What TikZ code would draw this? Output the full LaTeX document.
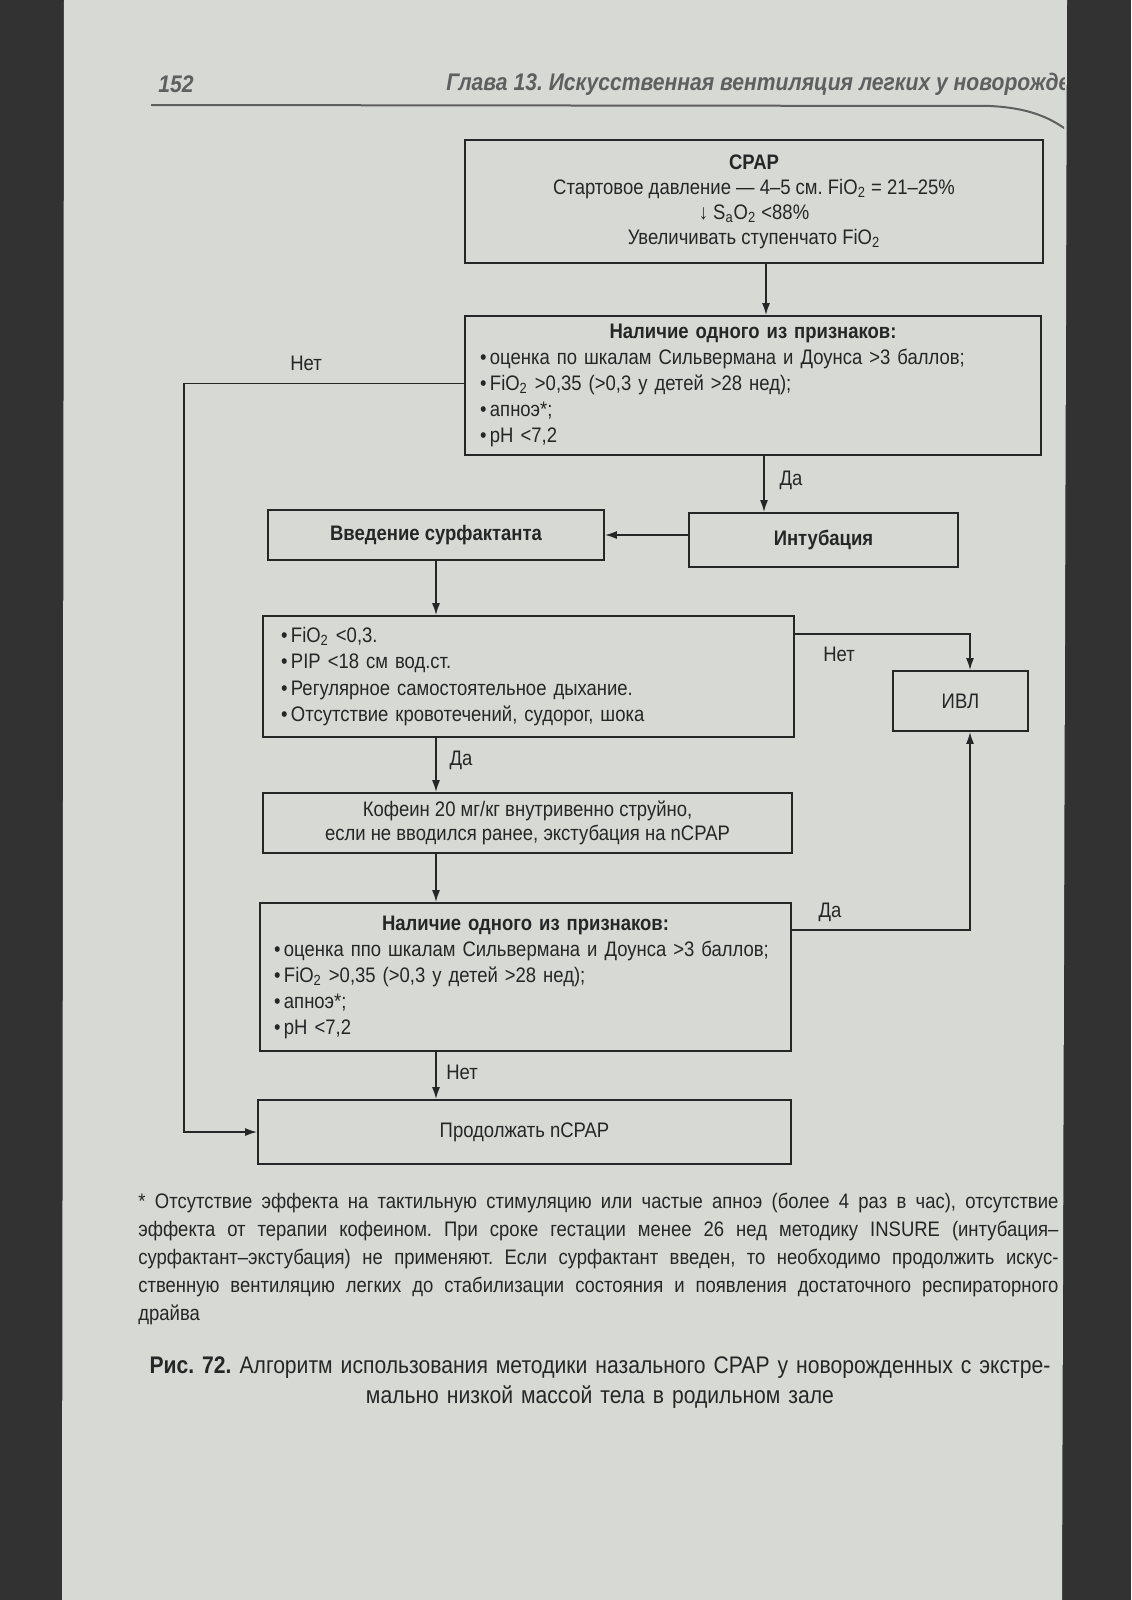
\documentclass[tikz,border=0pt]{standalone}
\usepackage{fontspec}
\setmainfont{Liberation Sans}[FakeStretch=0.88]
\usetikzlibrary{arrows.meta,calc}
\definecolor{pagebg}{RGB}{214,217,212}
\definecolor{ink}{RGB}{38,38,38}
\definecolor{hdrink}{RGB}{95,95,95}
\definecolor{edge}{RGB}{50,50,50}
\frenchspacing
\begin{document}
\begin{tikzpicture}[x=0.5pt,y=-0.5pt,
  box/.style={draw=ink, line width=0.9pt, rectangle, inner sep=0pt, text=ink, font=\fontsize{10.5}{13}\selectfont},
  arr/.style={draw=ink, line width=0.8pt, -{Latex[length=6pt,width=4pt]}},
  lbl/.style={text=ink, font=\fontsize{10.5}{13}\selectfont, inner sep=0pt},
  hdr/.style={text=hdrink, font=\fontsize{12}{14}\selectfont\bfseries\itshape, inner sep=0pt}]
\useasboundingbox (0,0) rectangle (1131,1600);
% photo background
\fill[edge] (0,0) rectangle (1131,1600);
\fill[pagebg] (64,0) -- (1067,0) -- (1062,1600) -- (62,1600) -- cycle;

% header (clipped at the page edge)
\begin{scope}
\clip (64,0) rectangle (1064,200);
\node[hdr, anchor=west] (pg) at (158,84) {152};
\node[hdr, anchor=west] (chap) at (446,84) {Глава 13. Искусственная вентиляция легких у новорожденных};
\draw[draw=hdrink, line width=1pt] (151,105) -- (990,106) .. controls (1030,108) and (1050,118) .. (1067,130);
\end{scope}

% boxes
\node[box, minimum width=289pt, minimum height=61.5pt, align=center, font=\fontsize{10.5}{12.5}\selectfont] (cpap) at (754,201.5)
 {\textbf{CPAP}\\ Стартовое давление — 4–5 см. FiO\textsubscript{2} = 21–25\%\\ ↓ S\textsubscript{a}O\textsubscript{2} <88\%\\ Увеличивать ступенчато FiO\textsubscript{2}};

\node[box, minimum width=288pt, minimum height=69.5pt, text width=273pt, align=left] (sign1) at (753,385.5)
 {{\centering\bfseries Наличие одного из признаков:\par}
 •\,оценка по шкалам Сильвермана и Доунса >3 баллов;\\
 •\,FiO\textsubscript{2} >0,35 (>0,3 у детей >28 нед);\\
 •\,апноэ*;\\
 •\,pH <7,2};

\node[box, minimum width=134.5pt, minimum height=27pt, font=\fontsize{10.5}{13}\selectfont\bfseries] (intub) at (823.5,540) {Интубация};
\node[box, minimum width=168pt, minimum height=25pt, font=\fontsize{10.5}{13}\selectfont\bfseries] (surf) at (436,535) {Введение сурфактанта};

\node[box, minimum width=265.5pt, minimum height=60.5pt, text width=247.5pt, align=left, font=\fontsize{10.5}{13.3}\selectfont] (crit) at (528.5,676.5)
 {•\,FiO\textsubscript{2} <0,3.\\
 •\,PIP <18 см вод.ст.\\
 •\,Регулярное самостоятельное дыхание.\\
 •\,Отсутствие кровотечений, судорог, шока};

\node[box, minimum width=67.5pt, minimum height=30pt] (ivl) at (960.5,701) {ИВЛ};

\node[box, minimum width=264.5pt, minimum height=30pt, align=center, font=\fontsize{10.5}{12}\selectfont] (caff) at (527.5,823)
 {Кофеин 20 мг/кг внутривенно струйно,\\ если не вводился ранее, экстубация на nCPAP};

\node[box, minimum width=265.5pt, minimum height=74pt, text width=251.5pt, align=left] (sign2) at (525.5,977)
 {{\centering\bfseries Наличие одного из признаков:\par}
 •\,оценка ппо шкалам Сильвермана и Доунса >3 баллов;\\
 •\,FiO\textsubscript{2} >0,35 (>0,3 у детей >28 нед);\\
 •\,апноэ*;\\
 •\,pH <7,2};

\node[box, minimum width=266.5pt, minimum height=32pt] (cont) at (524.5,1132) {Продолжать nCPAP};

% helper coordinates
\coordinate (lx) at (184,0);
\coordinate (rx) at (970,0);
\coordinate (c1) at ($(cpap.south)+(12,0)$);
\coordinate (c2) at ($(sign1.south)+(11,0)$);
\coordinate (c3) at ($(sign1.west)+(0,-2)$);
\coordinate (c4) at ($(crit.north east)+(0,19)$);
\coordinate (c5) at ($(sign2.north east)+(0,28)$);

% connectors
\draw[arr] (c1) -- (c1 |- sign1.north);
\draw[arr] (c2) -- (c2 |- intub.north);
\draw[arr] (intub.west |- surf.east) -- (surf.east);
\draw[arr] (surf.south) -- (surf.south |- crit.north);
\draw[arr] (crit.south -| surf.south) -- (caff.north -| surf.south);
\draw[arr] (caff.south -| surf.south) -- (sign2.north -| surf.south);
\draw[arr] (sign2.south -| surf.south) -- (cont.north -| surf.south);
\draw[arr] (c3) -- (c3 -| lx) |- (cont.west);
\draw[arr] (c4) -- (c4 -| rx) -- (rx |- ivl.north);
\draw[arr] (c5) -- (c5 -| rx) -- (rx |- ivl.south);

% connector labels
\node[lbl] (l1) at (306,363) {Нет};
\node[lbl] (l2) at (791,480) {Да};
\node[lbl] (l3) at (839,654) {Нет};
\node[lbl] (l4) at (461,760) {Да};
\node[lbl] (l5) at (830,912) {Да};
\node[lbl] (l6) at (462,1072) {Нет};

% footnote
\node[anchor=north west, inner sep=0pt, text=ink, text width=460pt, align=justify, font=\fontsize{10.5}{14}\selectfont] (fn) at (138,1193)
 {* Отсутствие эффекта на тактильную стимуляцию или частые апноэ (более 4 раз в час), отсутствие\linebreak
 эффекта от терапии кофеином. При сроке гестации менее 26 нед методику INSURE (интубация–\linebreak
 сурфактант–экстубация) не применяют. Если сурфактант введен, то необходимо продолжить искус-\linebreak
 ственную вентиляцию легких до стабилизации состояния и появления достаточного респираторного\linebreak
 драйва};

% caption
\node[anchor=north, inner sep=0pt, text=ink, text width=462pt, align=center, font=\fontsize{12}{15}\selectfont] (cap) at (600,1356)
 {\textbf{Рис. 72.} Алгоритм использования методики назального CPAP у новорожденных с экстре-\\
 мально низкой массой тела в родильном зале};
\end{tikzpicture}
\end{document}
